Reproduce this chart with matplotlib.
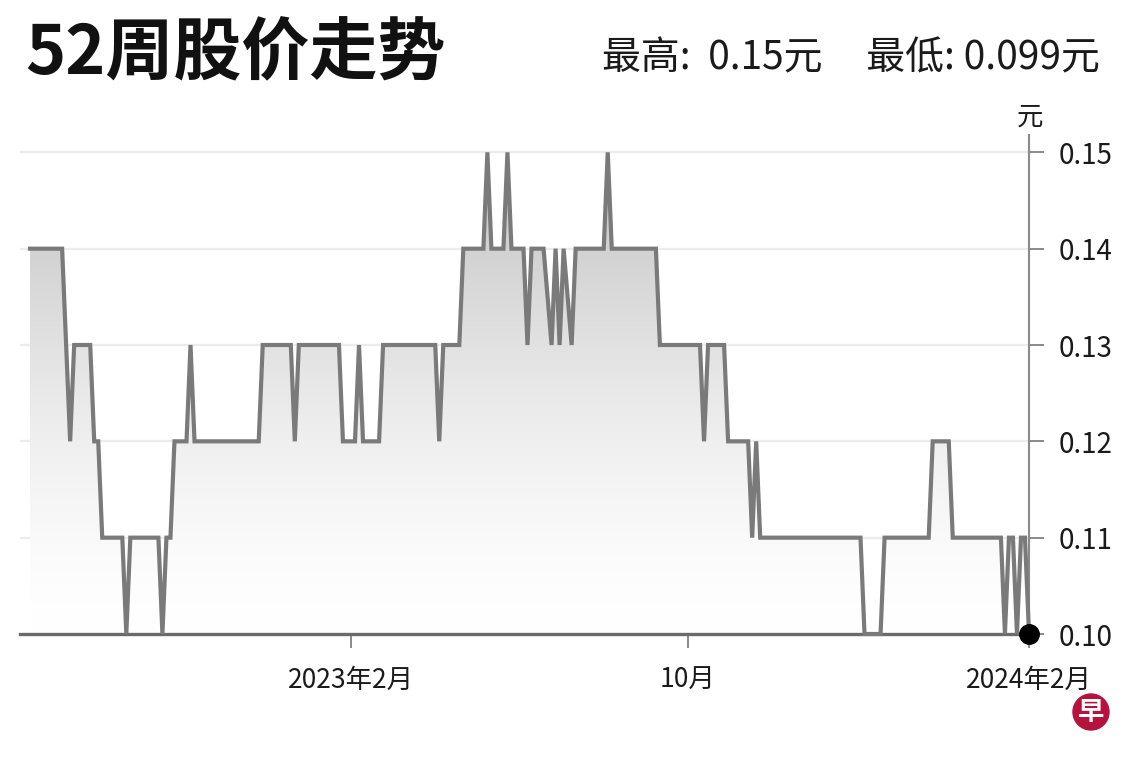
"""52周股价走势: step-like daily closes with a grey gradient fill."""

import matplotlib
matplotlib.use("Agg")
import matplotlib.pyplot as plt
import numpy as np
from matplotlib.patches import Ellipse

plt.rcParams["font.family"] = ["Noto Sans CJK SC", "DejaVu Sans"]

# trading-day index of each turning point, and the price there (元)
days = [0, 8, 10, 11, 15, 16, 17, 18, 23, 24, 25, 32, 33, 34, 35, 36, 39, 40, 41,
        57, 58, 65, 66, 67, 77, 78, 81, 82, 83, 87, 88, 101, 102, 103, 107, 108,
        113, 114, 115, 118, 119, 120, 123, 124, 125, 128, 130, 131, 132, 133, 135,
        136, 143, 144, 145, 156, 157, 167, 168, 169, 173, 174, 179, 180, 181, 182,
        207, 208, 212, 213, 224, 225, 229, 230, 242, 243, 244, 245, 246, 247, 248, 249]
prices = [0.14, 0.14, 0.12, 0.13, 0.13, 0.12, 0.12, 0.11, 0.11, 0.10, 0.11, 0.11, 0.10,
          0.11, 0.11, 0.12, 0.12, 0.13, 0.12, 0.12, 0.13, 0.13, 0.12, 0.13, 0.13, 0.12,
          0.12, 0.13, 0.12, 0.12, 0.13, 0.13, 0.12, 0.13, 0.13, 0.14, 0.14, 0.15, 0.14,
          0.14, 0.15, 0.14, 0.14, 0.13, 0.14, 0.14, 0.13, 0.14, 0.13, 0.14, 0.13, 0.14,
          0.14, 0.15, 0.14, 0.14, 0.13, 0.13, 0.12, 0.13, 0.13, 0.12, 0.12, 0.11, 0.12,
          0.11, 0.11, 0.10, 0.10, 0.11, 0.11, 0.12, 0.12, 0.11, 0.11, 0.10, 0.11, 0.11,
          0.10, 0.11, 0.11, 0.10]

y_ticks = [0.10, 0.11, 0.12, 0.13, 0.14, 0.15]
x_tick_days = [80, 164, 249]
x_tick_labels = ["2023年2月", "10月", "2024年2月"]

LINE = "#7a7a7a"
AXIS = "#8a8a8a"


def main():
    fig = plt.figure(figsize=(11.4, 7.61), dpi=100)
    ax = fig.add_axes([20 / 1140, 127 / 761, 1009 / 1140, 499 / 761])
    x0, x1, y0, y1 = -2.5, 249, 0.10, 0.1518
    ax.set_xlim(x0, x1); ax.set_ylim(y0, y1)

    # gradient under the line, clipped to the filled area
    grad = np.linspace(1.0, 0.0, 256)[:, None]
    shade = 1 - 0.26 * grad ** 1.5
    img = ax.imshow(np.dstack([shade, shade, shade]), extent=(x0, x1, y0, y1),
                    aspect="auto", zorder=1, interpolation="bicubic")
    poly = ax.fill_between(days, prices, y0, color="none", zorder=1)
    img.set_clip_path(poly.get_paths()[0], transform=ax.transData)

    for v in y_ticks[1:]:
        ax.axhline(v, color="#ececec", lw=1.6, zorder=0)

    ax.plot(days, prices, color=LINE, lw=3, zorder=3, clip_on=False, solid_joinstyle="miter")
    ax.plot(days[-1], prices[-1], "o", color="black", ms=14, zorder=5, clip_on=False)

    for side in ("top", "left"):
        ax.spines[side].set_visible(False)
    ax.spines["right"].set_color(AXIS); ax.spines["right"].set_linewidth(1.5)
    ax.spines["bottom"].set_color("#6a6a6a"); ax.spines["bottom"].set_linewidth(2.4)
    ax.yaxis.tick_right()
    ax.set_yticks(y_ticks, [f"{v:.2f}" for v in y_ticks])
    ax.set_xticks(x_tick_days, x_tick_labels)
    ax.tick_params(axis="y", length=11, width=1.4, color=AXIS, pad=10, labelsize=20, labelcolor="#1a1a1a")
    ax.tick_params(axis="x", length=10, width=1.4, color=AXIS, pad=14, labelsize=19, labelcolor="#1a1a1a")

    fig.text(1030 / 1140, 1 - 117 / 761, "元", fontsize=19, ha="center", va="center", color="#1a1a1a")
    fig.text(25 / 1140, 1 - 55 / 761, "52周股价走势", fontsize=49, fontweight="heavy", ha="left", va="center", color="#111111")
    fig.text(1100 / 1140, 1 - 58 / 761, "最高:  0.15元     最低: 0.099元", fontsize=28, ha="right", va="center", color="#1a1a1a")

    fig.patches.append(Ellipse((1091 / 1140, 1 - 712 / 761), 36 / 1140, 36 / 761, transform=fig.transFigure,
                               color="#b5123e", zorder=10))
    fig.text(1091 / 1140, 1 - 713 / 761, "早", fontsize=19, fontweight="bold", ha="center", va="center",
             color="white", zorder=11)

    fig.savefig("out.png", dpi=100)
    plt.close(fig)


if __name__ == "__main__": main()
